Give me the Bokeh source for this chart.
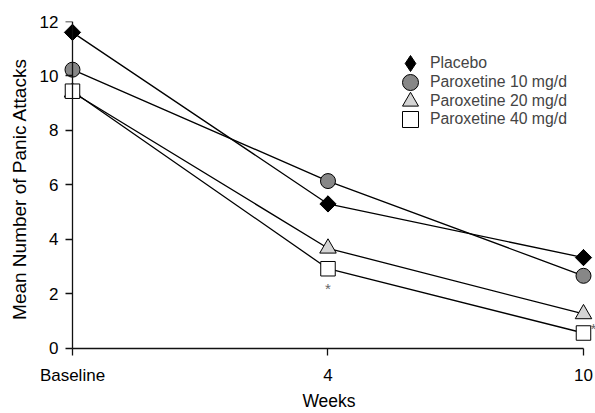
import math
from bokeh.plotting import figure
from bokeh.models import (FixedTicker, Legend, LegendItem, ColumnDataSource,
                          Range1d, LinearAxis)
from bokeh.core.properties import value
from bokeh.embed import file_html
from bokeh.resources import INLINE

# ---- data ----
week_labels = ["Baseline", "4", "10"]
placebo = [11.6, 5.3, 3.33]
parox_10 = [10.23, 6.14, 2.66]
parox_20 = [9.4, 3.67, 1.26]
parox_40 = [9.44, 2.92, 0.56]
y_ticks = [0, 2, 4, 6, 8, 10, 12]
series_names = ["Placebo", "Paroxetine 10 mg/d", "Paroxetine 20 mg/d", "Paroxetine 40 mg/d"]
sig_week_index = [1, 2]          # weeks where 40 mg/d is marked significant
sig_marks = ["*", "*"]

x = list(range(len(week_labels)))
FONT = "Liberation Sans"

p = figure(width=595, height=413, output_backend="svg", toolbar_location=None,
           x_range=Range1d(-0.0391, 2.047), y_range=Range1d(-0.303, 12),
           min_border_left=62, min_border_right=0, min_border_top=21, min_border_bottom=57)
p.outline_line_color = None
p.grid.visible = False
p.background_fill_color = "white"
p.border_fill_color = "white"

# lines
for vals in (placebo, parox_10, parox_20, parox_40):
    p.line(x, vals, line_color="black", line_width=1.3)

# markers (the diamond under the rotated square serves as legend glyph)
r_pl_leg = p.scatter(x, placebo, marker="diamond", size=16,
                     fill_color="black", line_color="black", line_width=1)
p.scatter(x, placebo, marker="square", angle=math.pi / 4, size=11.5,
          fill_color="black", line_color="black", line_width=1)
r_10 = p.scatter(x, parox_10, marker="circle", size=15,
                 fill_color="#878787", line_color="black", line_width=1)
r_20 = p.scatter(x, parox_20, marker="triangle", size=16.5,
                 fill_color="#d4d4d4", line_color="black", line_width=1)
r_40 = p.scatter(x, parox_40, marker="square", size=14.5,
                 fill_color="white", line_color="black", line_width=1)

# significance asterisks
sig_src = ColumnDataSource(dict(
    x=[x[i] for i in sig_week_index],
    y=[parox_40[i] for i in sig_week_index],
    t=sig_marks,
    dx=[0, 10],
    dy=[20, -5],
))
p.text(x="x", y="y", text="t", source=sig_src, x_offset="dx", y_offset="dy",
       text_font=value(FONT), text_font_size="15px", text_color="#666666",
       text_align="center", text_baseline="middle")

# label axes (in the side panels): only tick labels and titles
for ax in (p.xaxis, p.yaxis):
    ax.axis_line_color = None
    ax.major_tick_line_color = None
    ax.minor_tick_line_color = None
    ax.major_tick_in = 0
    ax.major_tick_out = 0
    ax.minor_tick_out = 0
    ax.major_label_text_font = FONT
    ax.major_label_text_font_size = "17px"
    ax.major_label_text_color = "black"
    ax.axis_label_text_font = FONT
    ax.axis_label_text_font_style = "normal"
    ax.axis_label_text_color = "black"

p.xaxis.ticker = FixedTicker(ticks=x)
p.xaxis.major_label_overrides = {i: lab for i, lab in enumerate(week_labels)}
p.xaxis.major_label_standoff = 9
p.xaxis.axis_label = "Weeks"
p.xaxis.axis_label_text_font_size = "17.5px"
p.xaxis.axis_label_standoff = 3

p.yaxis.ticker = FixedTicker(ticks=y_ticks)
p.yaxis.major_label_standoff = 4
p.yaxis.axis_label = "Mean Number of Panic Attacks"
p.yaxis.axis_label_text_font_size = "19px"
p.yaxis.axis_label_standoff = 7

# rule axes crossing at the origin: lines and tick marks only
x_rule = LinearAxis(fixed_location=0, bounds=(0, 2), ticker=FixedTicker(ticks=x),
                    major_label_overrides={i: "" for i in x})
y_rule = LinearAxis(fixed_location=0, bounds=(0, 12), ticker=FixedTicker(ticks=y_ticks),
                    major_label_overrides={t: "" for t in y_ticks})
for ax in (x_rule, y_rule):
    ax.axis_line_color = "#111111"
    ax.axis_line_width = 1.3
    ax.major_tick_line_color = "#111111"
    ax.major_tick_line_width = 1.3
    ax.major_tick_in = 0
    ax.major_tick_out = 7
    ax.minor_tick_line_color = None
p.add_layout(x_rule, "below")
p.add_layout(y_rule, "left")

# legends, one per row
leg_specs = [(series_names[0], r_pl_leg, 273),
             (series_names[1], r_10, 254),
             (series_names[2], r_20, 235),
             (series_names[3], r_40, 217)]
for name, rend, vy in leg_specs:
    leg = Legend(items=[LegendItem(label=name, renderers=[rend])],
                 location=(328, vy), glyph_width=40, glyph_height=40,
                 label_standoff=0, padding=0, margin=0, spacing=0,
                 label_text_font=FONT, label_text_font_size="15.8px",
                 background_fill_alpha=0, border_line_alpha=0)
    p.add_layout(leg)

open("out.html", "w").write(file_html(p, INLINE))
